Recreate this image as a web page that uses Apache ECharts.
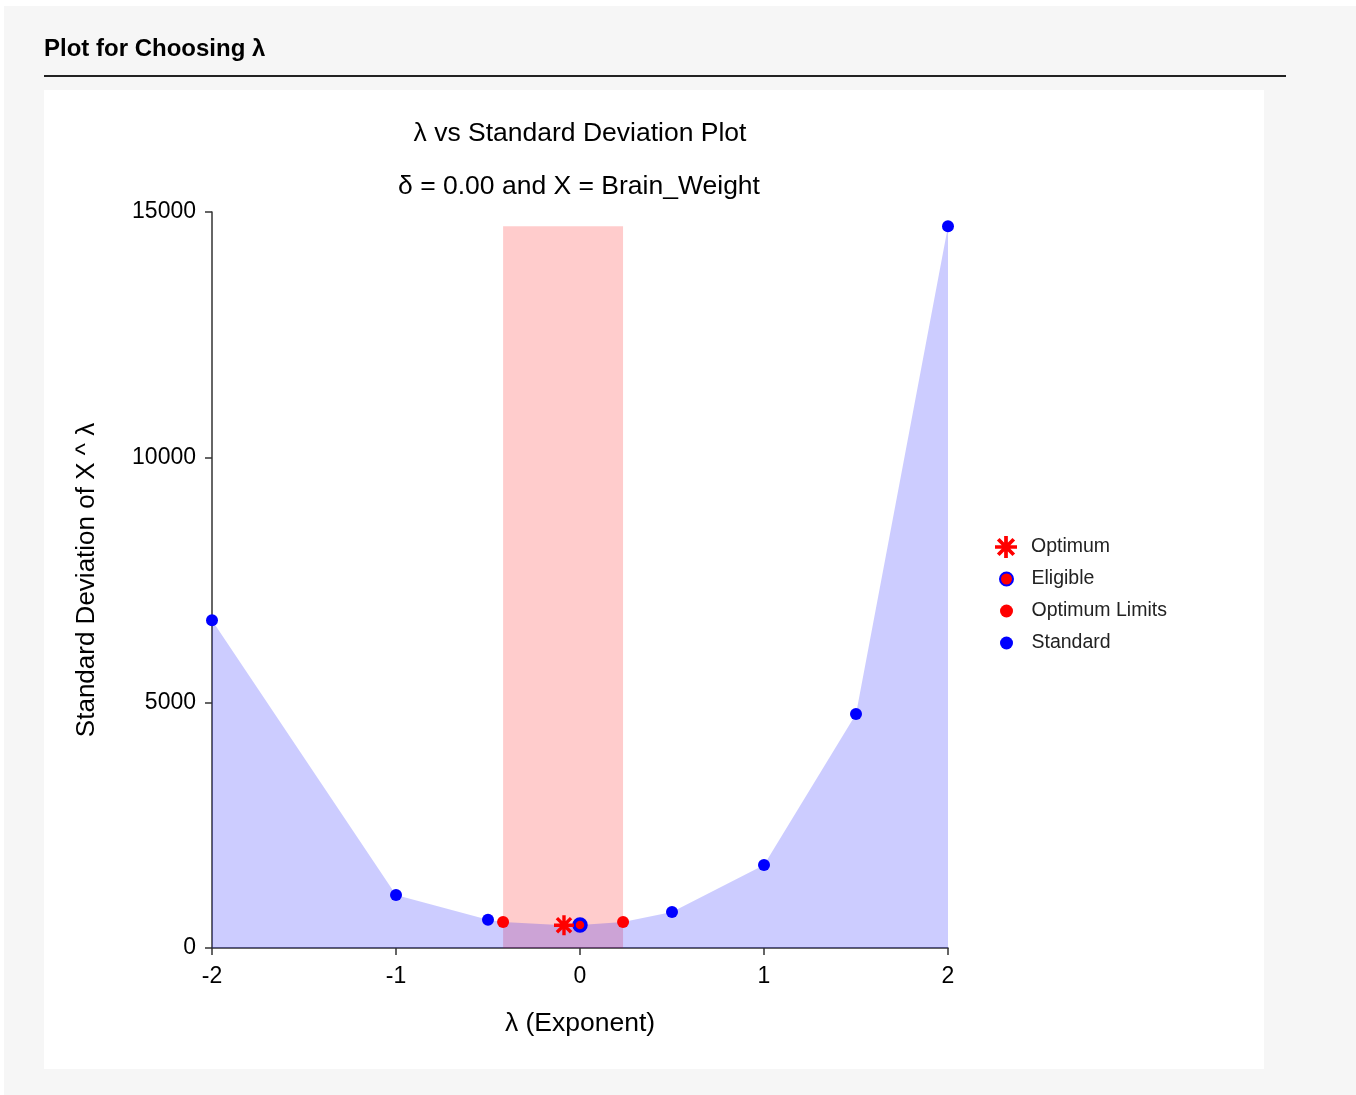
<!DOCTYPE html>
<html>
<head>
<meta charset="utf-8">
<script src="https://cdn.jsdelivr.net/npm/echarts@6/dist/echarts.min.js"></script>
<style>
html,body{margin:0;padding:0;background:#fff;}
#chart{width:1356px;height:1095px;}
</style>
</head>
<body>
<div id="chart"></div>
<script>
// Data
const standardX = [-2, -1, -0.5, 0.5, 1, 1.5, 2];
const standardY = [6680, 1080, 575, 735, 1690, 4770, 14710];
const eligibleX = [0];
const eligibleY = [470];
const limitsX = [-0.418, 0.234];
const limitsY = [530, 530];
const optimumX = [-0.087];
const optimumY = [465];
const bandX = [-0.418, 0.234];
const bandY = [0, 14710];
const xTicks = ['-2', '-1', '0', '1', '2'];
const yTicks = ['0', '5000', '10000', '15000'];

const FONT = '"Liberation Sans", Arial, sans-serif';

function pairs(xs, ys) { return xs.map((x, i) => [x, ys[i]]); }

// area curve through every point, sorted by lambda
const allPts = pairs(standardX, standardY)
  .concat(pairs(eligibleX, eligibleY))
  .concat(pairs(limitsX, limitsY))
  .concat(pairs(optimumX, optimumY))
  .sort((a, b) => a[0] - b[0]);

// asterisk symbol shape: four thick bars through the centre
function starPath() {
  const L = 10, W = 1.7;
  let d = '';
  for (let k = 0; k < 4; k++) {
    const a = k * Math.PI / 4, c = Math.cos(a), s = Math.sin(a);
    const pts = [[-L, -W], [L, -W], [L, W], [-L, W]].map(p =>
      [(p[0] * c - p[1] * s).toFixed(3), (p[0] * s + p[1] * c).toFixed(3)]);
    d += 'M' + pts.map(p => p[0] + ',' + p[1]).join(' L') + ' Z ';
  }
  return 'path://' + d;
}
const STAR = starPath();

const chart = echarts.init(document.getElementById('chart'), null, {renderer: 'canvas'});
chart.setOption({
  animation: false,
  backgroundColor: '#ffffff',
  textStyle: {fontFamily: FONT},
  graphic: [
    {type: 'rect', z: -10, shape: {x: 4, y: 6, width: 1352, height: 1089}, style: {fill: '#f6f6f6'}},
    {type: 'rect', z: -9, shape: {x: 44, y: 90, width: 1220, height: 979}, style: {fill: '#ffffff'}},
    {type: 'text', left: 44, top: 37, style: {text: 'Plot for Choosing λ', font: 'bold 24px ' + FONT, fill: '#000'}},
    {type: 'rect', shape: {x: 44, y: 75, width: 1242, height: 2}, style: {fill: '#222'}}
  ],
  title: [
    {text: 'λ vs Standard Deviation Plot', left: 575, top: 115, textAlign: 'center',
     textStyle: {fontSize: 26.5, fontWeight: 'normal', color: '#000', fontFamily: FONT}},
    {text: 'δ = 0.00 and X = Brain_Weight', left: 574, top: 168, textAlign: 'center',
     textStyle: {fontSize: 26.5, fontWeight: 'normal', color: '#000', fontFamily: FONT}}
  ],
  legend: [
    {
      orient: 'vertical', left: 990, top: 531, itemWidth: 40, itemHeight: 22,
      data: [{name: 'Optimum', icon: STAR}],
      textStyle: {fontSize: 19.5, color: '#222', fontFamily: FONT}
    },
    {
      orient: 'vertical', left: 994, top: 563, itemGap: 10, itemWidth: 40, itemHeight: 13,
      data: ['Eligible', 'Optimum Limits', 'Standard'],
      textStyle: {fontSize: 19.5, color: '#222', fontFamily: FONT, lineHeight: 22}
    }
  ],
  grid: {left: 212, right: 408, top: 212, bottom: 147},
  xAxis: {
    type: 'value', min: -2, max: 2, interval: 1,
    name: 'λ (Exponent)', nameLocation: 'middle', nameGap: 62,
    nameTextStyle: {fontSize: 26.5, color: '#000', fontFamily: FONT},
    axisLine: {onZero: false, lineStyle: {color: '#333', width: 1.5}},
    axisTick: {length: 7, lineStyle: {color: '#333', width: 1.5}},
    axisLabel: {fontSize: 23, color: '#000', margin: 17, fontFamily: FONT,
      formatter: v => xTicks[Math.round(v + 2)]},
    splitLine: {show: false}
  },
  yAxis: {
    type: 'value', min: 0, max: 15000, interval: 5000,
    name: 'Standard Deviation of X ^ λ', nameLocation: 'middle', nameGap: 112, nameRotate: 90,
    nameTextStyle: {fontSize: 26, color: '#000', fontFamily: FONT},
    axisLine: {show: true, onZero: false, lineStyle: {color: '#333', width: 1.5}},
    axisTick: {show: true, length: 7, lineStyle: {color: '#333', width: 1.5}},
    axisLabel: {fontSize: 23, color: '#000', margin: 16, fontFamily: FONT,
      formatter: v => yTicks[Math.round(v / 5000)]},
    splitLine: {show: false}
  },
  series: [
    {
      name: 'area', type: 'line', data: allPts, showSymbol: false, symbol: 'none',
      lineStyle: {width: 0}, areaStyle: {color: 'rgba(0,0,255,0.2)', opacity: 1}, z: 1,
      silent: true,
      markArea: {
        silent: true,
        itemStyle: {color: 'rgba(255,0,0,0.2)'},
        data: [[{coord: [bandX[0], bandY[0]]}, {coord: [bandX[1], bandY[1]]}]]
      }
    },
    {
      name: 'Standard', type: 'scatter', data: pairs(standardX, standardY),
      symbol: 'circle', symbolSize: 12, itemStyle: {color: '#0000ff', opacity: 1}, z: 5
    },
    {
      name: 'Optimum Limits', type: 'scatter', data: pairs(limitsX, limitsY),
      symbol: 'circle', symbolSize: 12, itemStyle: {color: '#ff0000', opacity: 1}, z: 5
    },
    {
      name: 'Eligible', type: 'scatter', data: pairs(eligibleX, eligibleY),
      symbol: 'circle', symbolSize: 12, itemStyle: {color: '#ff0000', borderColor: '#0000ff', borderWidth: 3.5, opacity: 1}, z: 6
    },
    {
      name: 'Optimum', type: 'scatter', data: pairs(optimumX, optimumY),
      symbol: STAR, symbolSize: 20, itemStyle: {color: '#ff0000', opacity: 1}, z: 6
    }
  ]
});
</script>
</body>
</html>
